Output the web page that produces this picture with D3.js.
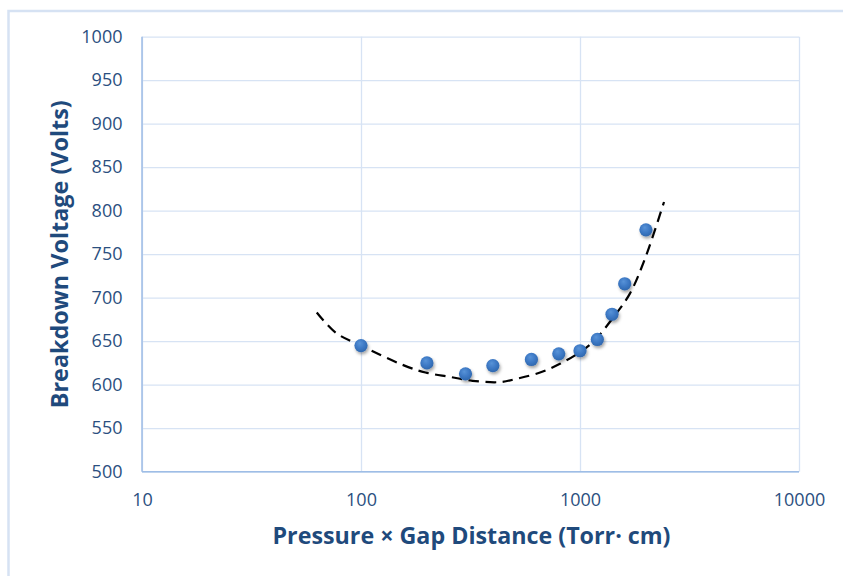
<!DOCTYPE html>
<html>
<head>
<meta charset="utf-8">
<script src="https://cdn.jsdelivr.net/npm/d3@7"></script>
<style>
  html, body { margin: 0; padding: 0; background: #ffffff; }
  svg { display: block; }
</style>
</head>
<body>
<svg id="chart" width="843" height="576"></svg>
<script>
// ---- Data ----
const xTickValues = [10, 100, 1000, 10000];
const xTickLabels = ["10", "100", "1000", "10000"];
const yTickValues = [500, 550, 600, 650, 700, 750, 800, 850, 900, 950, 1000];

// measured points: pressure × gap distance (Torr·cm) and breakdown voltage (V)
const pdValues = [100, 200, 300, 400, 600, 800, 1000, 1200, 1400, 1600, 2000];
const voltageValues = [645, 625, 612.5, 622, 629, 635.5, 639, 652, 681, 716, 778];

// dashed trend curve
const fitPd = [62.8, 76.9, 100, 156, 197, 255, 323, 431, 518, 657, 810, 1021, 1171, 1445, 1692, 1981, 2419];
const fitVoltage = [683, 659.5, 645, 622.5, 614, 609, 604.5, 603, 607, 614, 624, 639, 651.5, 680, 705, 745, 810];

const xTitle = "Pressure × Gap Distance (Torr· cm)";
const yTitle = "Breakdown Voltage (Volts)";

// ---- Layout ----
const svg = d3.select("#chart");
const plotLeft = 142, plotRight = 799, plotTop = 36.7, plotBottom = 471.7;

const x = d3.scaleLog().domain([10, 10000]).range([plotLeft, plotRight]);
const y = d3.scaleLinear().domain([500, 1000]).range([plotBottom, plotTop]);

const gridColor = "#d7e3f4";
const axisColor = "#9ebde6";
const tickColor = "#2b4f80";
const titleColor = "#1f4a7c";
const font = "'Open Sans', 'DejaVu Sans', sans-serif";

// outer chart frame
svg.append("rect")
  .attr("x", 8.5).attr("y", 11)
  .attr("width", 900).attr("height", 700)
  .attr("fill", "none")
  .attr("stroke", "#d6e2f3")
  .attr("stroke-width", 2.5);

// defs: marker gradient and shadow
const defs = svg.append("defs");
const grad = defs.append("radialGradient").attr("id", "dotGrad")
  .attr("cx", "45%").attr("cy", "40%").attr("r", "60%")
  .attr("fx", "40%").attr("fy", "32%");
grad.append("stop").attr("offset", "0%").attr("stop-color", "#5893d8");
grad.append("stop").attr("offset", "60%").attr("stop-color", "#3c78c4");
grad.append("stop").attr("offset", "100%").attr("stop-color", "#3068ae");
const shadow = defs.append("filter").attr("id", "shadow")
  .attr("x", "-50%").attr("y", "-50%").attr("width", "200%").attr("height", "200%");
shadow.append("feDropShadow")
  .attr("dx", 1.2).attr("dy", 2.2).attr("stdDeviation", 1.6)
  .attr("flood-color", "#000").attr("flood-opacity", 0.35);

// horizontal grid (via axis)
const yGrid = svg.append("g")
  .attr("transform", `translate(${plotLeft},0)`)
  .call(d3.axisLeft(y).tickValues(yTickValues).tickSize(-(plotRight - plotLeft)).tickFormat(""));
yGrid.select(".domain").remove();
yGrid.selectAll("line").attr("stroke", gridColor).attr("stroke-width", 1.3);

// vertical grid (via axis)
const xGrid = svg.append("g")
  .attr("transform", `translate(0,${plotBottom})`)
  .call(d3.axisBottom(x).tickValues(xTickValues).tickSize(-(plotBottom - plotTop)).tickFormat(""));
xGrid.select(".domain").remove();
xGrid.selectAll("line").attr("stroke", gridColor).attr("stroke-width", 1.3);

// y axis labels
const yAxis = svg.append("g")
  .attr("transform", `translate(${plotLeft},0)`)
  .call(d3.axisLeft(y).tickValues(yTickValues).tickSize(0).tickPadding(19.5).tickFormat(d3.format("d")));
yAxis.select(".domain").remove();
yAxis.selectAll("text")
  .attr("fill", tickColor)
  .style("font-family", font)
  .style("font-size", "18px");

// x axis labels
const xAxis = svg.append("g")
  .attr("transform", `translate(0,${plotBottom})`)
  .call(d3.axisBottom(x).tickValues(xTickValues).tickSize(0).tickPadding(22)
    .tickFormat((d, i) => xTickLabels[i]));
xAxis.select(".domain").remove();
xAxis.selectAll("text")
  .attr("fill", tickColor)
  .style("font-family", font)
  .style("font-size", "18px");

// axis lines (left and bottom darker)
svg.append("line")
  .attr("x1", plotLeft).attr("x2", plotLeft).attr("y1", plotTop).attr("y2", plotBottom)
  .attr("stroke", axisColor).attr("stroke-width", 1.5);
svg.append("line")
  .attr("x1", plotLeft).attr("x2", plotRight).attr("y1", plotBottom).attr("y2", plotBottom)
  .attr("stroke", axisColor).attr("stroke-width", 1.5);

// trend curve
const fitData = fitPd.map((p, i) => ({ p, v: fitVoltage[i] }));
const line = d3.line()
  .x(d => x(d.p))
  .y(d => y(d.v))
  .curve(d3.curveCatmullRom.alpha(0.5));
svg.append("path")
  .datum(fitData)
  .attr("d", line)
  .attr("fill", "none")
  .attr("stroke", "#000")
  .attr("stroke-width", 2.2)
  .attr("stroke-dasharray", "10.5,6.5");

// scatter points
const pts = pdValues.map((p, i) => ({ p, v: voltageValues[i] }));
svg.append("g").selectAll("circle")
  .data(pts)
  .join("circle")
  .attr("cx", d => x(d.p))
  .attr("cy", d => y(d.v))
  .attr("r", 6.6)
  .attr("fill", "url(#dotGrad)")
  .attr("filter", "url(#shadow)");

// axis titles
svg.append("text")
  .attr("x", (plotLeft + plotRight) / 2 + 1)
  .attr("y", 544)
  .attr("text-anchor", "middle")
  .attr("textLength", 398)
  .attr("lengthAdjust", "spacingAndGlyphs")
  .attr("fill", titleColor)
  .style("font-family", font)
  .style("font-weight", "bold")
  .style("font-size", "23px")
  .text(xTitle);

svg.append("text")
  .attr("transform", `translate(68,${(plotTop + plotBottom) / 2}) rotate(-90)`)
  .attr("text-anchor", "middle")
  .attr("textLength", 308)
  .attr("lengthAdjust", "spacingAndGlyphs")
  .attr("fill", titleColor)
  .style("font-family", font)
  .style("font-weight", "bold")
  .style("font-size", "23px")
  .text(yTitle);
</script>
</body>
</html>
